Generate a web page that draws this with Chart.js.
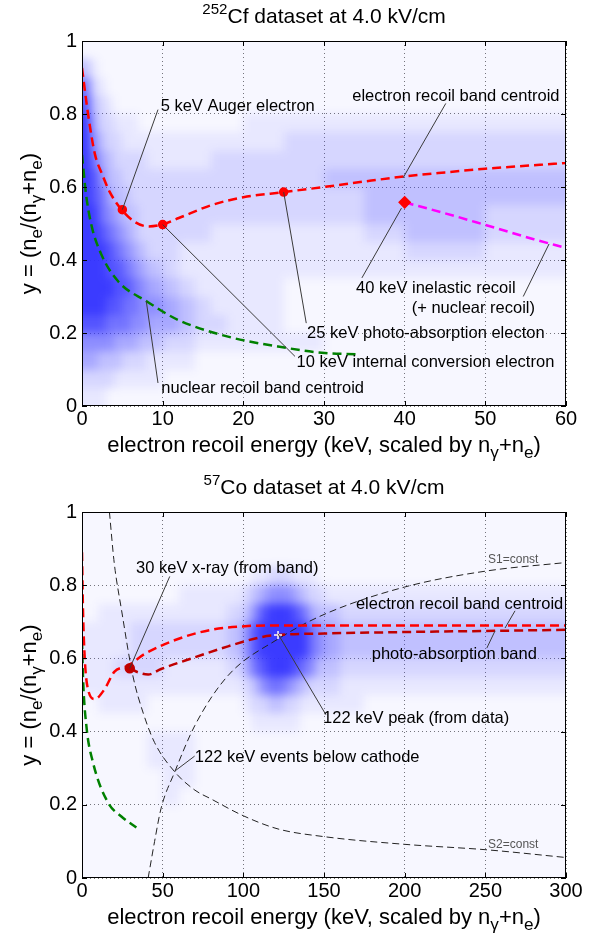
<!DOCTYPE html>
<html>
<head>
<meta charset="utf-8">
<script src="https://cdn.jsdelivr.net/npm/chart.js@4.4.1/dist/chart.umd.min.js"></script>
<style>
  html, body { margin: 0; padding: 0; background: #fff; }
  .panel { width: 596px; height: 468px; }
  canvas { display: block; }
</style>
</head>
<body>
<div class="panel"><canvas id="cfChart" width="596" height="468"></canvas></div>
<div class="panel"><canvas id="coChart" width="596" height="468"></canvas></div>
<script>
const FONT = '"Liberation Sans", Arial, Helvetica, sans-serif';

// ---- 252Cf panel ----
const cfXTicks = [0, 10, 20, 30, 40, 50, 60];
const cfYTicks = [0, 0.2, 0.4, 0.6, 0.8, 1];

// event density, rows run from y=1 down in 0.05 steps, 0..9
const cfXEdges = [0, 1, 2, 3, 4, 5, 6, 7, 8, 10, 12, 14, 16, 18, 20, 25, 30, 35, 40, 45, 50, 55, 60];
const cfDensity = [
  "1111111111111111111111",
  "4211111111111111111111",
  "7321111111111111111111",
  "8432111111111111111111",
  "9533222111111122222222",
  "9643322222222223333333",
  "9754333322223333333333",
  "9864433333333333444444",
  "9875443333333333344444",
  "9976544333333333344433",
  "9987654333332222234433",
  "9998765433222222223322",
  "9998876543222222222222",
  "9999887654322221111111",
  "9998877665432221111111",
  "8887776655433221111111",
  "6666555443322222111111",
  "5544433322211111111111",
  "3333222221111111111111",
  "2221111111111111111111",
];

const cfErX = [0, 0.75, 1.6, 2.5, 3.4, 4.9, 6.5, 8.2, 9.9, 12, 16, 20, 25, 30, 35, 40, 45, 50, 55, 60];
const cfErY = [0.926, 0.8, 0.69, 0.635, 0.588, 0.538, 0.505, 0.492, 0.497, 0.515, 0.55, 0.572, 0.586, 0.6, 0.615, 0.629, 0.64, 0.65, 0.658, 0.666];
const cfNrX = [0, 0.5, 1.15, 2.4, 4.5, 8, 11.9, 18.1, 24.3, 30.1, 34];
const cfNrY = [0.688, 0.58, 0.497, 0.415, 0.341, 0.287, 0.236, 0.19, 0.163, 0.145, 0.142];
const cfInelX = [40, 45, 50, 56, 60];
const cfInelY = [0.558, 0.528, 0.496, 0.457, 0.433];
const cfDotX = [5, 10, 25];
const cfDotY = [0.538, 0.497, 0.586];
const cfDiamondX = [40];
const cfDiamondY = [0.558];

// ---- 57Co panel ----
const coXTicks = [0, 50, 100, 150, 200, 250, 300];
const coYTicks = [0, 0.2, 0.4, 0.6, 0.8, 1];

const coXEdges = [0, 10, 20, 30, 40, 50, 60, 70, 80, 90, 100, 105, 110, 115, 120, 125, 130, 135, 140, 145, 150, 160, 175, 200, 225, 250, 275, 300];
const coDensity = [
  "111111111111111111111111111",
  "111111111111111111111111111",
  "111111111111111111111111111",
  "111111111112233322211111111",
  "111111222234566654332222222",
  "122222222346899987544333333",
  "222333333468999999765444444",
  "222333333468999999765444444",
  "223332222357899987644333333",
  "222222222234677654333222222",
  "122211111123344332222211111",
  "111111111112222221111111111",
  "111122211111111111111111111",
  "111122211111111111111111111",
  "111112211111111111111111111",
  "111112111111111111111111111",
  "111111111111111111111111111",
  "111111111111111111111111111",
  "111111111111111111111111111",
  "111111111111111111111111111",
];

const coErX = [0, 0.6, 1.7, 3.7, 7.9, 14, 20, 28.5, 38.8, 59.5, 80, 101, 121.5, 150, 200, 250, 300];
const coErY = [0.89, 0.735, 0.6, 0.516, 0.489, 0.516, 0.563, 0.58, 0.612, 0.653, 0.678, 0.688, 0.69, 0.69, 0.69, 0.69, 0.69];
const coPhotoX = [29.6, 34.7, 41, 49, 70, 90.5, 111, 121.5, 150, 200, 250, 300];
const coPhotoY = [0.573, 0.562, 0.556, 0.571, 0.603, 0.633, 0.658, 0.664, 0.668, 0.672, 0.675, 0.678];
const coNrX = [0, 0.6, 2.7, 6.8, 16, 24.4, 33.7];
const coNrY = [0.65, 0.55, 0.416, 0.316, 0.207, 0.168, 0.138];
const coS1X = [41, 45, 49, 57.5, 70, 90.5, 121.5, 150, 200, 251, 300];
const coS1Y = [0, 0.1, 0.19, 0.29, 0.417, 0.553, 0.653, 0.72, 0.795, 0.839, 0.862];
const coS2X = [17, 20, 24.4, 31.5, 38, 45, 57.5, 70, 80, 100, 121.5, 150, 200, 251, 300];
const coS2Y = [1.0, 0.86, 0.735, 0.553, 0.45, 0.37, 0.29, 0.24, 0.216, 0.17, 0.134, 0.113, 0.092, 0.077, 0.056];
const coXrayX = [29.6];
const coXrayY = [0.573];
const coPeakX = [121.5];
const coPeakY = [0.664];

const LEVEL_ALPHA = [0, 0.04, 0.11, 0.2, 0.3, 0.42, 0.55, 0.68, 0.82, 0.95];

function pts(xs, ys) {
  return xs.map((x, i) => ({ x, y: ys[i] }));
}

function curve(xs, ys, color, width, dash) {
  return {
    data: pts(xs, ys),
    showLine: true,
    borderColor: color,
    borderWidth: width,
    borderDash: dash,
    pointRadius: 0,
    cubicInterpolationMode: 'monotone',
    fill: false,
  };
}

function markers(xs, ys, color, style, radius, border) {
  return {
    data: pts(xs, ys),
    showLine: false,
    pointStyle: style,
    pointRadius: radius,
    backgroundColor: color,
    borderColor: border || color,
    borderWidth: 1.5,
  };
}

function drawRich(ctx, parts, cx, cy, size, ratio) {
  const small = size * (ratio || 0.72);
  const widths = parts.map((p) => {
    ctx.font = `${p.sup || p.sub ? small : size}px ${FONT}`;
    return ctx.measureText(p.t).width;
  });
  let x = cx - widths.reduce((a, b) => a + b, 0) / 2;
  ctx.textAlign = 'left';
  ctx.textBaseline = 'middle';
  parts.forEach((p, i) => {
    ctx.font = `${p.sup || p.sub ? small : size}px ${FONT}`;
    const dy = p.sup ? -size * 0.36 : p.sub ? size * 0.32 : 0;
    ctx.fillText(p.t, x, cy + dy);
    x += widths[i];
  });
}

function figurePlugin(spec) {
  return {
    id: 'figure',
    beforeDatasetsDraw(chart) {
      const { ctx, chartArea: a, scales: { x, y } } = chart;
      const off = document.createElement('canvas');
      off.width = chart.width;
      off.height = chart.height;
      const o = off.getContext('2d');
      const rows = spec.density;
      rows.forEach((row, r) => {
        let top = Math.round(y.getPixelForValue(1 - r * 0.05));
        let bottom = Math.round(y.getPixelForValue(1 - (r + 1) * 0.05));
        if (r === 0) top -= 10;
        if (r === rows.length - 1) bottom += 10;
        for (let c = 0; c < row.length; c++) {
          const lv = Number(row[c]);
          if (!lv) continue;
          let left = Math.round(x.getPixelForValue(spec.edges[c]));
          let right = Math.round(x.getPixelForValue(spec.edges[c + 1]));
          if (c === 0) left -= 10;
          if (c === row.length - 1) right += 10;
          o.fillStyle = `rgba(48,48,255,${LEVEL_ALPHA[lv]})`;
          o.fillRect(left, top, right - left, bottom - top);
        }
      });
      ctx.save();
      ctx.beginPath();
      ctx.rect(a.left, a.top, a.width, a.height);
      ctx.clip();
      ctx.filter = 'blur(5px)';
      ctx.drawImage(off, 0, 0);
      ctx.restore();
    },
    afterDatasetsDraw(chart) {
      const { ctx, scales: { x, y } } = chart;
      ctx.save();
      // leader lines
      ctx.strokeStyle = '#3a3a3a';
      ctx.lineWidth = 1;
      spec.leaders.forEach(([x1, y1, x2, y2]) => {
        ctx.beginPath();
        ctx.moveTo(x.getPixelForValue(x1), y.getPixelForValue(y1));
        ctx.lineTo(x.getPixelForValue(x2), y.getPixelForValue(y2));
        ctx.stroke();
      });
      // labels
      ctx.textBaseline = 'middle';
      spec.notes.forEach((n) => {
        ctx.font = `${n.size || 16.5}px ${FONT}`;
        ctx.fillStyle = n.color || '#000';
        ctx.textAlign = n.align || 'left';
        ctx.fillText(n.text, x.getPixelForValue(n.x), y.getPixelForValue(n.y));
      });
      ctx.restore();
    },
    afterDraw(chart) {
      const { ctx, chartArea: a, scales: { x, y } } = chart;
      ctx.save();
      ctx.strokeStyle = '#000';
      ctx.lineWidth = 1;
      ctx.beginPath();
      spec.xTicks.forEach((v) => {
        const px = Math.round(x.getPixelForValue(v)) + 0.5;
        ctx.moveTo(px, a.bottom);
        ctx.lineTo(px, a.bottom - 5);
        ctx.moveTo(px, a.top);
        ctx.lineTo(px, a.top + 5);
      });
      spec.yTicks.forEach((v) => {
        const py = Math.round(y.getPixelForValue(v)) + 0.5;
        ctx.moveTo(a.left, py);
        ctx.lineTo(a.left + 5, py);
        ctx.moveTo(a.right, py);
        ctx.lineTo(a.right - 5, py);
      });
      ctx.stroke();
      ctx.strokeRect(a.left + 0.5, a.top + 0.5, a.width - 1, a.height - 1);

      ctx.fillStyle = '#000';
      const cx = (a.left + a.right) / 2;
      drawRich(ctx, spec.title, cx, a.top - 24, 21);
      drawRich(ctx, [
        { t: 'electron recoil energy (keV, scaled by n' }, { t: 'γ', sub: true },
        { t: '+n' }, { t: 'e', sub: true }, { t: ')' },
      ], cx, a.bottom + 40, 22, 0.78);
      ctx.translate(30, (a.top + a.bottom) / 2);
      ctx.rotate(-Math.PI / 2);
      drawRich(ctx, [
        { t: 'y = (n' }, { t: 'e', sub: true }, { t: '/(n' }, { t: 'γ', sub: true },
        { t: '+n' }, { t: 'e', sub: true }, { t: ')' },
      ], 0, 0, 22, 0.78);
      ctx.restore();
    },
  };
}

function buildChart(id, spec, datasets, xMax, axisHeight, topPad) {
  const tickFont = { family: FONT, size: 20 };
  return new Chart(document.getElementById(id), {
    type: 'scatter',
    data: { datasets },
    options: {
      responsive: false,
      animation: false,
      events: [],
      layout: { padding: { top: topPad, right: 30, left: 0, bottom: 0 } },
      plugins: { legend: { display: false }, tooltip: { enabled: false }, title: { display: false } },
      scales: {
        x: {
          type: 'linear',
          min: 0,
          max: xMax,
          afterBuildTicks: (s) => { s.ticks = spec.xTicks.map((v) => ({ value: v })); },
          afterFit: (s) => { s.height = axisHeight; },
          grid: { color: '#777', lineWidth: 1, drawTicks: false },
          border: { display: false, dash: [1, 3] },
          ticks: { font: tickFont, color: '#000', padding: 1, maxRotation: 0, callback: (v) => String(v) },
        },
        y: {
          type: 'linear',
          min: 0,
          max: 1,
          afterBuildTicks: (s) => { s.ticks = spec.yTicks.map((v) => ({ value: v })); },
          afterFit: (s) => { s.width = 82; },
          grid: { color: '#777', lineWidth: 1, drawTicks: false },
          border: { display: false, dash: [1, 3] },
          ticks: { font: tickFont, color: '#000', padding: 5, callback: (v) => String(v) },
        },
      },
    },
    plugins: [figurePlugin(spec)],
  });
}

// ---- top: 252Cf ----
buildChart('cfChart', {
  xTicks: cfXTicks,
  yTicks: cfYTicks,
  edges: cfXEdges,
  density: cfDensity,
  title: [{ t: '252', sup: true }, { t: 'Cf dataset at 4.0 kV/cm' }],
  leaders: [
    [9.42, 0.812, 5, 0.538],
    [45.1, 0.829, 39.8, 0.625],
    [39.6, 0.542, 34.7, 0.351],
    [57.9, 0.444, 54.7, 0.3],
    [25, 0.586, 27.8, 0.227],
    [10, 0.497, 26.4, 0.136],
    [7.97, 0.287, 9.42, 0.063],
  ],
  notes: [
    { text: '5 keV Auger electron', x: 9.75, y: 0.821 },
    { text: 'electron recoil band centroid', x: 59.2, y: 0.848, align: 'right' },
    { text: '40 keV inelastic recoil', x: 33.97, y: 0.323 },
    { text: '(+ nuclear recoil)', x: 40.87, y: 0.267 },
    { text: '25 keV photo-absorption electon', x: 27.9, y: 0.2 },
    { text: '10 keV internal conversion electron', x: 26.6, y: 0.118 },
    { text: 'nuclear recoil band centroid', x: 9.83, y: 0.047 },
  ],
}, [
  markers(cfDotX, cfDotY, '#ff0000', 'circle', 4),
  markers(cfDiamondX, cfDiamondY, '#ff0000', 'rectRot', 5.5),
  curve(cfInelX, cfInelY, '#ff00ff', 2.5, [9, 5]),
  curve(cfErX, cfErY, '#ff0000', 2.5, [9, 5]),
  curve(cfNrX, cfNrY, '#008000', 2.5, [9, 5]),
], 60, 62, 41);

// ---- bottom: 57Co ----
buildChart('coChart', {
  xTicks: coXTicks,
  yTicks: coYTicks,
  edges: coXEdges,
  density: coDensity,
  title: [{ t: '57', sup: true }, { t: 'Co dataset at 4.0 kV/cm' }],
  leaders: [
    [29.6, 0.573, 54.4, 0.824],
    [268.4, 0.73, 262.2, 0.683],
    [256, 0.675, 250.9, 0.628],
    [121.5, 0.667, 151.2, 0.446],
    [69.8, 0.333, 57.5, 0.292],
  ],
  notes: [
    { text: 'S1=const', x: 251.7, y: 0.87, size: 12, color: '#555' },
    { text: 'S2=const', x: 251.7, y: 0.09, size: 12, color: '#555' },
    { text: '30 keV x-ray (from band)', x: 33.5, y: 0.847 },
    { text: 'electron recoil band centroid', x: 169.8, y: 0.747 },
    { text: 'photo-absorption band', x: 179.6, y: 0.61 },
    { text: '122 keV peak (from data)', x: 149.4, y: 0.437 },
    { text: '122 keV events below cathode', x: 69.9, y: 0.33 },
  ],
}, [
  markers(coPeakX, coPeakY, '#ffffff', 'cross', 4, '#ffffff'),
  markers(coXrayX, coXrayY, '#c00000', 'circle', 4.5),
  curve(coErX, coErY, '#ff0000', 2.5, [9, 5]),
  curve(coPhotoX, coPhotoY, '#c00000', 2.5, [9, 5]),
  curve(coNrX, coNrY, '#008000', 2.5, [9, 5]),
  curve(coS1X, coS1Y, '#222222', 1, [7, 4]),
  curve(coS2X, coS2Y, '#222222', 1, [7, 4]),
], 300, 58, 44);
</script>
</body>
</html>
